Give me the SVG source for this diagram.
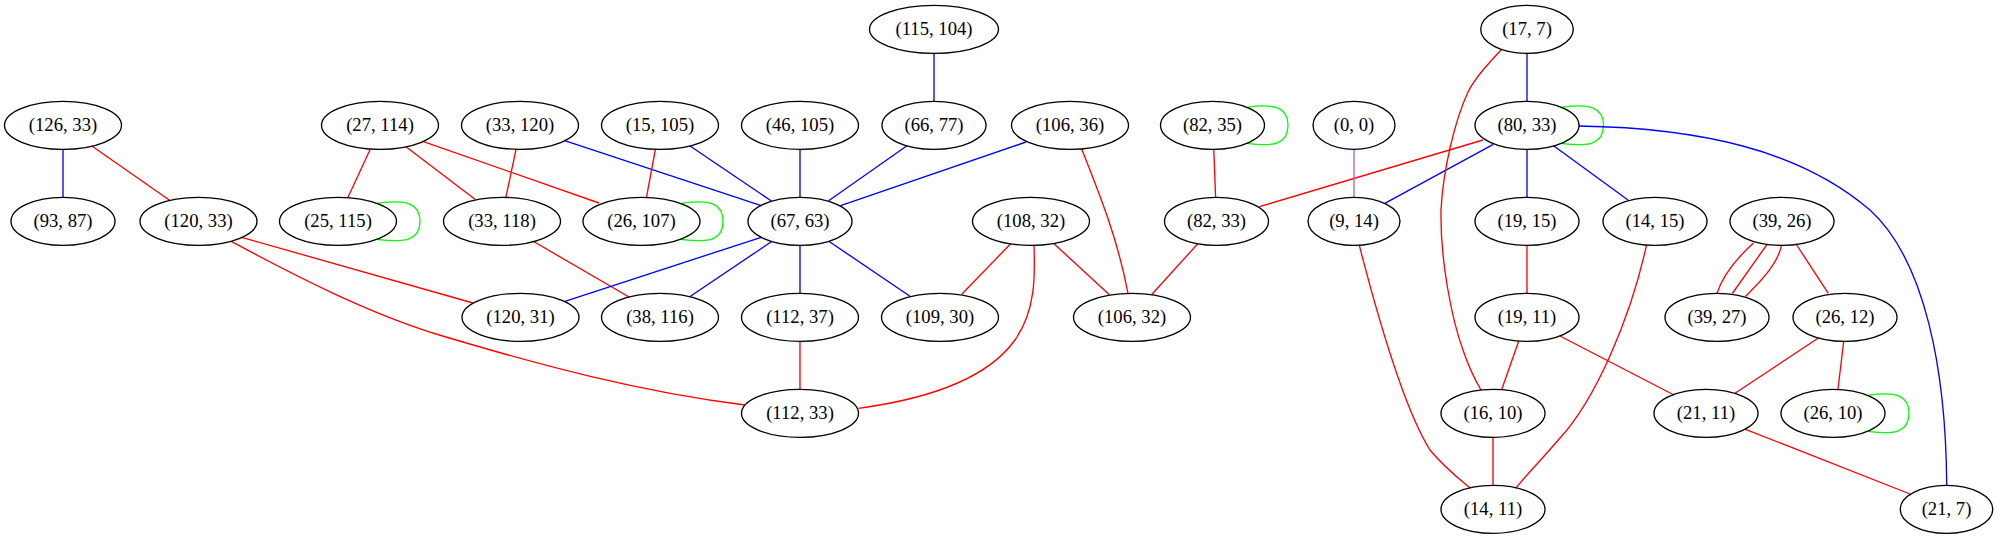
<svg xmlns="http://www.w3.org/2000/svg" width="1997" height="539" viewBox="0 0 1997 539">
<style>
.node ellipse{fill:none;stroke:#000;stroke-width:1.33}
.node text{font-family:"Liberation Serif","Times New Roman",serif;font-size:18.67px;text-anchor:middle;fill:#000}
#edges path{fill:none;stroke-width:1.33}
#edges .r{stroke:#ff0000}
#edges .b{stroke:#0000ff}
#edges .g{stroke:#00ff00}
#edges .p{stroke:#b060e0}
</style>
<rect width="1997" height="539" fill="#fff"/>
<g id="edges">
<path class="b" d="M63,149.5 L63,197"/>
<path class="r" d="M91.5,145.7 L169.6,200.3"/>
<path class="r" d="M370,149.7 L347.8,197.7"/>
<path class="r" d="M406,146.7 L475,199.3"/>
<path class="r" d="M422.8,141.3 L599,203"/>
<path class="r" d="M516,149.7 L505.8,197.7"/>
<path class="b" d="M564.7,140.7 L761.2,205.7"/>
<path class="r" d="M655.4,149.7 L646.4,197.7"/>
<path class="b" d="M689.7,145.7 L771.4,201"/>
<path class="b" d="M800,149.5 L800,197"/>
<path class="b" d="M907,145.7 L828.6,200.7"/>
<path class="b" d="M1026,142 L840.6,205.7"/>
<path class="b" d="M934,53.5 L934,101"/>
<path class="g" d="M377,203.3 C407,199.3 420,203.3 420,221.3 C420,239.3 407,243.3 377,239.3"/>
<path class="g" d="M681,203.3 C711,199.3 723,203.3 723,221.3 C723,239.3 711,243.3 681,239.3"/>
<path class="r" d="M241.5,237.3 L473,303"/>
<path class="r" d="M231.7,241.7 C290,273 370,315 446,337 C540,365 640,392 745,405"/>
<path class="r" d="M534,241.7 L629.5,297.3"/>
<path class="b" d="M761.2,237.3 L565,301.3"/>
<path class="b" d="M771.4,241.7 L689.7,296.7"/>
<path class="b" d="M800,245.5 L800,293"/>
<path class="b" d="M829.5,241.7 L910.7,296.7"/>
<path class="r" d="M800,341.5 L800,389"/>
<path class="r" d="M1010.7,243.7 L962,294"/>
<path class="r" d="M1054,243.7 L1109.4,294.7"/>
<path class="r" d="M1034,245.5 C1035,275 1036,310 1015,340 C985,382 920,400 858.5,408.3"/>
<path class="r" d="M1081.7,149 C1100,195 1118,240 1128,293.5"/>
<path class="g" d="M1247,107.3 C1275,103.3 1288,107.3 1288,125.3 C1288,143.3 1275,147.3 1247,143.3"/>
<path class="r" d="M1213.8,149.5 L1215.6,197"/>
<path class="r" d="M1197.8,243.7 L1152,294.3"/>
<path class="r" d="M1483,140 L1259.4,206.7"/>
<path class="p" d="M1354,149.5 L1354,197"/>
<path class="b" d="M1493.3,144.3 L1384.8,203.3"/>
<path class="b" d="M1527,53.5 L1527,101"/>
<path class="r" d="M1501,50 C1488,64 1475,78 1468,92 C1455,120 1443,170 1441,210 C1440,260 1452,320 1463,350 C1468,365 1474,378 1481,390"/>
<path class="g" d="M1561.5,107.3 C1590,103.3 1603.5,107.3 1603.5,125.3 C1603.5,143.3 1590,147.3 1561.5,143.3"/>
<path class="b" d="M1527,149.5 L1527,197"/>
<path class="b" d="M1553.6,145.7 L1628,200"/>
<path class="b" d="M1579,126 C1700,128 1800,150 1870,210 C1925,260 1946,370 1946.7,485"/>
<path class="r" d="M1359.4,245.7 C1385,345 1408,415 1430,450 C1445,468 1458,478 1470.5,488.3"/>
<path class="r" d="M1527,245.5 L1527,293"/>
<path class="r" d="M1646.4,245.7 C1630,320 1595,400 1560,438 C1543,458 1528,473 1515.6,488.3"/>
<path class="r" d="M1753.5,243 C1738,257 1723,275 1717,293.3"/>
<path class="r" d="M1767,244.5 L1732.3,293.5"/>
<path class="r" d="M1781.5,245.7 C1777,265 1760,282 1745.5,296.5"/>
<path class="r" d="M1796.7,245 L1828.3,293.3"/>
<path class="r" d="M1518.75,341 L1501.8,389.3"/>
<path class="r" d="M1560,336 L1674,395"/>
<path class="r" d="M1818.75,337.7 L1735,393.3"/>
<path class="r" d="M1843.75,341 L1838,389"/>
<path class="g" d="M1868,395.3 C1896,391.3 1909,395.3 1909,413.3 C1909,431.3 1896,435.3 1868,431.3"/>
<path class="r" d="M1493,437.5 L1493,485"/>
<path class="r" d="M1745.5,429.3 L1910,494"/>
</g>
<g id="n115_104" class="node"><ellipse cx="934" cy="29.33" rx="64.5" ry="24"/><text x="934" y="35.33">(115, 104)</text></g>
<g id="n17_7" class="node"><ellipse cx="1527" cy="29.33" rx="46.3" ry="24"/><text x="1527" y="35.33">(17, 7)</text></g>
<g id="n126_33" class="node"><ellipse cx="63" cy="125.33" rx="58.5" ry="24"/><text x="63" y="131.33">(126, 33)</text></g>
<g id="n27_114" class="node"><ellipse cx="380" cy="125.33" rx="58.5" ry="24"/><text x="380" y="131.33">(27, 114)</text></g>
<g id="n33_120" class="node"><ellipse cx="520" cy="125.33" rx="58.5" ry="24"/><text x="520" y="131.33">(33, 120)</text></g>
<g id="n15_105" class="node"><ellipse cx="660" cy="125.33" rx="58.5" ry="24"/><text x="660" y="131.33">(15, 105)</text></g>
<g id="n46_105" class="node"><ellipse cx="800" cy="125.33" rx="58.5" ry="24"/><text x="800" y="131.33">(46, 105)</text></g>
<g id="n66_77" class="node"><ellipse cx="934" cy="125.33" rx="52" ry="24"/><text x="934" y="131.33">(66, 77)</text></g>
<g id="n106_36" class="node"><ellipse cx="1070" cy="125.33" rx="58.5" ry="24"/><text x="1070" y="131.33">(106, 36)</text></g>
<g id="n82_35" class="node"><ellipse cx="1212.5" cy="125.33" rx="52" ry="24"/><text x="1212.5" y="131.33">(82, 35)</text></g>
<g id="n0_0" class="node"><ellipse cx="1354" cy="125.33" rx="41" ry="24"/><text x="1354" y="131.33">(0, 0)</text></g>
<g id="n80_33" class="node"><ellipse cx="1527" cy="125.33" rx="52" ry="24"/><text x="1527" y="131.33">(80, 33)</text></g>
<g id="n93_87" class="node"><ellipse cx="63" cy="221.33" rx="52" ry="24"/><text x="63" y="227.33">(93, 87)</text></g>
<g id="n120_33" class="node"><ellipse cx="198.5" cy="221.33" rx="58.5" ry="24"/><text x="198.5" y="227.33">(120, 33)</text></g>
<g id="n25_115" class="node"><ellipse cx="338" cy="221.33" rx="58.5" ry="24"/><text x="338" y="227.33">(25, 115)</text></g>
<g id="n33_118" class="node"><ellipse cx="502" cy="221.33" rx="58.5" ry="24"/><text x="502" y="227.33">(33, 118)</text></g>
<g id="n26_107" class="node"><ellipse cx="641.5" cy="221.33" rx="58.5" ry="24"/><text x="641.5" y="227.33">(26, 107)</text></g>
<g id="n67_63" class="node"><ellipse cx="800" cy="221.33" rx="52" ry="24"/><text x="800" y="227.33">(67, 63)</text></g>
<g id="n108_32" class="node"><ellipse cx="1031" cy="221.33" rx="58.5" ry="24"/><text x="1031" y="227.33">(108, 32)</text></g>
<g id="n82_33" class="node"><ellipse cx="1216.5" cy="221.33" rx="52" ry="24"/><text x="1216.5" y="227.33">(82, 33)</text></g>
<g id="n9_14" class="node"><ellipse cx="1354" cy="221.33" rx="46" ry="24"/><text x="1354" y="227.33">(9, 14)</text></g>
<g id="n19_15" class="node"><ellipse cx="1527" cy="221.33" rx="52" ry="24"/><text x="1527" y="227.33">(19, 15)</text></g>
<g id="n14_15" class="node"><ellipse cx="1655" cy="221.33" rx="52" ry="24"/><text x="1655" y="227.33">(14, 15)</text></g>
<g id="n39_26" class="node"><ellipse cx="1782" cy="221.33" rx="52" ry="24"/><text x="1782" y="227.33">(39, 26)</text></g>
<g id="n120_31" class="node"><ellipse cx="520.5" cy="317.33" rx="58.5" ry="24"/><text x="520.5" y="323.33">(120, 31)</text></g>
<g id="n38_116" class="node"><ellipse cx="660" cy="317.33" rx="58.5" ry="24"/><text x="660" y="323.33">(38, 116)</text></g>
<g id="n112_37" class="node"><ellipse cx="800" cy="317.33" rx="58.5" ry="24"/><text x="800" y="323.33">(112, 37)</text></g>
<g id="n109_30" class="node"><ellipse cx="940" cy="317.33" rx="58.5" ry="24"/><text x="940" y="323.33">(109, 30)</text></g>
<g id="n106_32" class="node"><ellipse cx="1132" cy="317.33" rx="58.5" ry="24"/><text x="1132" y="323.33">(106, 32)</text></g>
<g id="n19_11" class="node"><ellipse cx="1527" cy="317.33" rx="52" ry="24"/><text x="1527" y="323.33">(19, 11)</text></g>
<g id="n39_27" class="node"><ellipse cx="1717" cy="317.33" rx="52" ry="24"/><text x="1717" y="323.33">(39, 27)</text></g>
<g id="n26_12" class="node"><ellipse cx="1845" cy="317.33" rx="52" ry="24"/><text x="1845" y="323.33">(26, 12)</text></g>
<g id="n112_33" class="node"><ellipse cx="800" cy="413.33" rx="58.5" ry="24"/><text x="800" y="419.33">(112, 33)</text></g>
<g id="n16_10" class="node"><ellipse cx="1493" cy="413.33" rx="52" ry="24"/><text x="1493" y="419.33">(16, 10)</text></g>
<g id="n21_11" class="node"><ellipse cx="1706" cy="413.33" rx="52" ry="24"/><text x="1706" y="419.33">(21, 11)</text></g>
<g id="n26_10" class="node"><ellipse cx="1833" cy="413.33" rx="52" ry="24"/><text x="1833" y="419.33">(26, 10)</text></g>
<g id="n14_11" class="node"><ellipse cx="1493" cy="509.33" rx="52" ry="24"/><text x="1493" y="515.33">(14, 11)</text></g>
<g id="n21_7" class="node"><ellipse cx="1946.5" cy="509.33" rx="46.3" ry="24"/><text x="1946.5" y="515.33">(21, 7)</text></g>
</svg>
